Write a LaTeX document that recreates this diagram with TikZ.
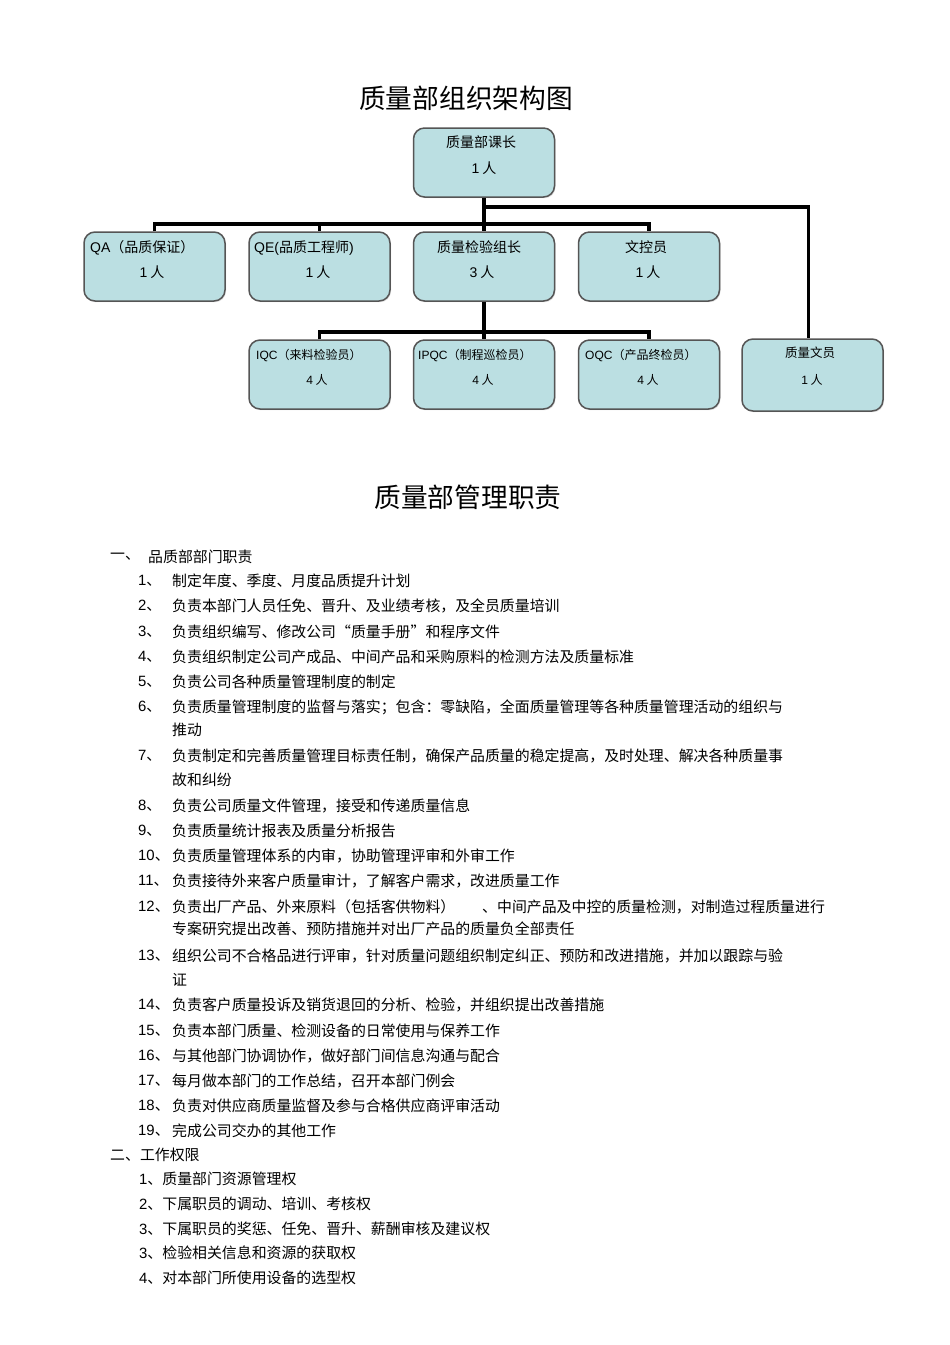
\documentclass[tikz,border=0pt]{standalone}
\usepackage{fontspec}
\setmainfont{Noto Sans CJK SC}
\newfontfamily\lat{Liberation Sans}
\usetikzlibrary{shadows}
\definecolor{boxfill}{RGB}{187,223,226}
\definecolor{boxline}{RGB}{85,85,85}
\newcommand\setfs[1]{\fontsize{#1}{#1}\selectfont}
\begin{document}
\begin{tikzpicture}[x=1pt,y=-1pt,
  orgbox/.style={draw=boxline, line width=1.5pt, fill=boxfill, rounded corners=11pt,
    minimum width=141pt, minimum height=69pt, inner sep=0pt,
    drop shadow={shadow xshift=1pt, shadow yshift=-1.2pt, opacity=0.25}},
  link/.style={line width=3.5pt, draw=black},
  boxtext/.style={inner sep=0pt, font=\setfs{14}},
  boxtextw/.style={inner sep=0pt, anchor=west, font=\setfs{14}},
  smalltext/.style={inner sep=0pt, font=\setfs{12}},
  smalltextw/.style={inner sep=0pt, anchor=west, font=\setfs{12}},
  titletext/.style={inner sep=0pt, font=\setfs{26.7}},
  listtext/.style={anchor=west, inner sep=0pt, font=\setfs{14.9}}
]
\fill[white] (0,0) rectangle (950,1345);
\useasboundingbox (0,0) rectangle (950,1345);

% titles
\node[titletext] (title1) at (466,98) {质量部组织架构图};
\node[titletext] (title2) at (468,497) {质量部管理职责};

% boxes
\node[orgbox] (top)  at (484,162.5) {};
\node[orgbox] (QA)   at (154.5,266.5) {};
\node[orgbox] (QE)   at (319.5,266.5) {};
\node[orgbox] (mid)  at (484,266.5) {};
\node[orgbox] (wk)   at (649,266.5) {};
\node[orgbox] (IQC)  at (319.5,374.5) {};
\node[orgbox] (IPQC) at (484,374.5) {};
\node[orgbox] (OQC)  at (649,374.5) {};
\node[orgbox, minimum height=72pt] (wy) at (812.5,375) {};

% connectors
\coordinate (busR) at (0,207);
\coordinate (busA) at (0,224);
\coordinate (busB) at (0,332);
\draw[link] (top.south) -- (mid.north);
\draw[link] (top.south |- busR) -| ([xshift=-4pt]wy.north);
\draw[link] (QA.north) |- (wk.north |- busA) -- (wk.north);
\draw[link] (QE.north) -- (QE.north |- busA);
\draw[link] (mid.south) -- (IPQC.north);
\draw[link] (IQC.north) |- (OQC.north |- busB) -- (OQC.north);

% box texts
\node[boxtext] (topa) at (481,142) {质量部课长};
\node[boxtext] (topb) at (484,168) {{\lat 1} 人};
\node[boxtextw] (QAa) at (90,248) {{\lat QA}（品质保证）};
\node[boxtext] (QAb) at (152,272) {{\lat 1} 人};
\node[boxtextw] (QEa) at (254,248) {{\lat QE(}品质工程师{\lat )}};
\node[boxtext] (QEb) at (318,272) {{\lat 1} 人};
\node[boxtext] (mida) at (479,247) {质量检验组长};
\node[boxtext] (midb) at (482,272) {{\lat 3} 人};
\node[boxtext] (wka) at (646,247) {文控员};
\node[boxtext] (wkb) at (648,272) {{\lat 1} 人};
\node[smalltextw] (IQCa) at (256,355) {{\lat IQC}（来料检验员）};
\node[smalltext] (IQCb) at (317,380) {{\lat 4} 人};
\node[smalltextw] (IPQCa) at (418,355) {{\lat IPQC}（制程巡检员）};
\node[smalltext] (IPQCb) at (483,380) {{\lat 4} 人};
\node[smalltextw] (OQCa) at (585,355) {{\lat OQC}（产品终检员）};
\node[smalltext] (OQCb) at (648,380) {{\lat 4} 人};
\node[smalltext, font=\setfs{12.5}] (wya) at (810,353) {质量文员};
\node[smalltext] (wyb) at (812,380) {{\lat 1} 人};

% section one
\node[listtext] (s1n) at (110,557) {一、};
\node[listtext] (s1t) at (148,557) {品质部部门职责};
\node[listtext] (n1) at (138,581) {{\lat 1}、};
\node[listtext] (t1) at (172,581) {制定年度、季度、月度品质提升计划};
\node[listtext] (n2) at (138,606) {{\lat 2}、};
\node[listtext] (t2) at (172,606) {负责本部门人员任免、晋升、及业绩考核，及全员质量培训};
\node[listtext] (n3) at (138,632) {{\lat 3}、};
\node[listtext] (t3) at (172,632) {负责组织编写、修改公司“质量手册”和程序文件};
\node[listtext] (n4) at (138,657) {{\lat 4}、};
\node[listtext] (t4) at (172,657) {负责组织制定公司产成品、中间产品和采购原料的检测方法及质量标准};
\node[listtext] (n5) at (138,682) {{\lat 5}、};
\node[listtext] (t5) at (172,682) {负责公司各种质量管理制度的制定};
\node[listtext] (n6) at (138,707) {{\lat 6}、};
\node[listtext] (t6) at (172,707) {负责质量管理制度的监督与落实；包含：零缺陷，全面质量管理等各种质量管理活动的组织与};
\node[listtext] (t6b) at (172,730) {推动};
\node[listtext] (n7) at (138,756) {{\lat 7}、};
\node[listtext] (t7) at (172,756) {负责制定和完善质量管理目标责任制，确保产品质量的稳定提高，及时处理、解决各种质量事};
\node[listtext] (t7b) at (172,780) {故和纠纷};
\node[listtext] (n8) at (138,806) {{\lat 8}、};
\node[listtext] (t8) at (172,806) {负责公司质量文件管理，接受和传递质量信息};
\node[listtext] (n9) at (138,831) {{\lat 9}、};
\node[listtext] (t9) at (172,831) {负责质量统计报表及质量分析报告};
\node[listtext] (n10) at (138,856) {{\lat 10}、};
\node[listtext] (t10) at (172,856) {负责质量管理体系的内审，协助管理评审和外审工作};
\node[listtext] (n11) at (138,881) {{\lat 11}、};
\node[listtext] (t11) at (172,881) {负责接待外来客户质量审计，了解客户需求，改进质量工作};
\node[listtext] (n12) at (138,907) {{\lat 12}、};
\node[listtext] (t12) at (172,907) {负责出厂产品、外来原料（包括客供物料）};
\node[listtext] (t12c) at (482,907) {、中间产品及中控的质量检测，对制造过程质量进行};
\node[listtext] (t12b) at (172,929) {专案研究提出改善、预防措施并对出厂产品的质量负全部责任};
\node[listtext] (n13) at (138,956) {{\lat 13}、};
\node[listtext] (t13) at (172,956) {组织公司不合格品进行评审，针对质量问题组织制定纠正、预防和改进措施，并加以跟踪与验};
\node[listtext] (t13b) at (172,980) {证};
\node[listtext] (n14) at (138,1005) {{\lat 14}、};
\node[listtext] (t14) at (172,1005) {负责客户质量投诉及销货退回的分析、检验，并组织提出改善措施};
\node[listtext] (n15) at (138,1031) {{\lat 15}、};
\node[listtext] (t15) at (172,1031) {负责本部门质量、检测设备的日常使用与保养工作};
\node[listtext] (n16) at (138,1056) {{\lat 16}、};
\node[listtext] (t16) at (172,1056) {与其他部门协调协作，做好部门间信息沟通与配合};
\node[listtext] (n17) at (138,1081) {{\lat 17}、};
\node[listtext] (t17) at (172,1081) {每月做本部门的工作总结，召开本部门例会};
\node[listtext] (n18) at (138,1106) {{\lat 18}、};
\node[listtext] (t18) at (172,1106) {负责对供应商质量监督及参与合格供应商评审活动};
\node[listtext] (n19) at (138,1131) {{\lat 19}、};
\node[listtext] (t19) at (172,1131) {完成公司交办的其他工作};

% section two
\node[listtext] (s2) at (110,1155) {二、工作权限};
\node[listtext] (r1) at (139,1179) {{\lat 1}、质量部门资源管理权};
\node[listtext] (r2) at (139,1204) {{\lat 2}、下属职员的调动、培训、考核权};
\node[listtext] (r3) at (139,1229) {{\lat 3}、下属职员的奖惩、任免、晋升、薪酬审核及建议权};
\node[listtext] (r4) at (139,1253) {{\lat 3}、检验相关信息和资源的获取权};
\node[listtext] (r5) at (139,1278) {{\lat 4}、对本部门所使用设备的选型权};
\end{tikzpicture}
\end{document}
